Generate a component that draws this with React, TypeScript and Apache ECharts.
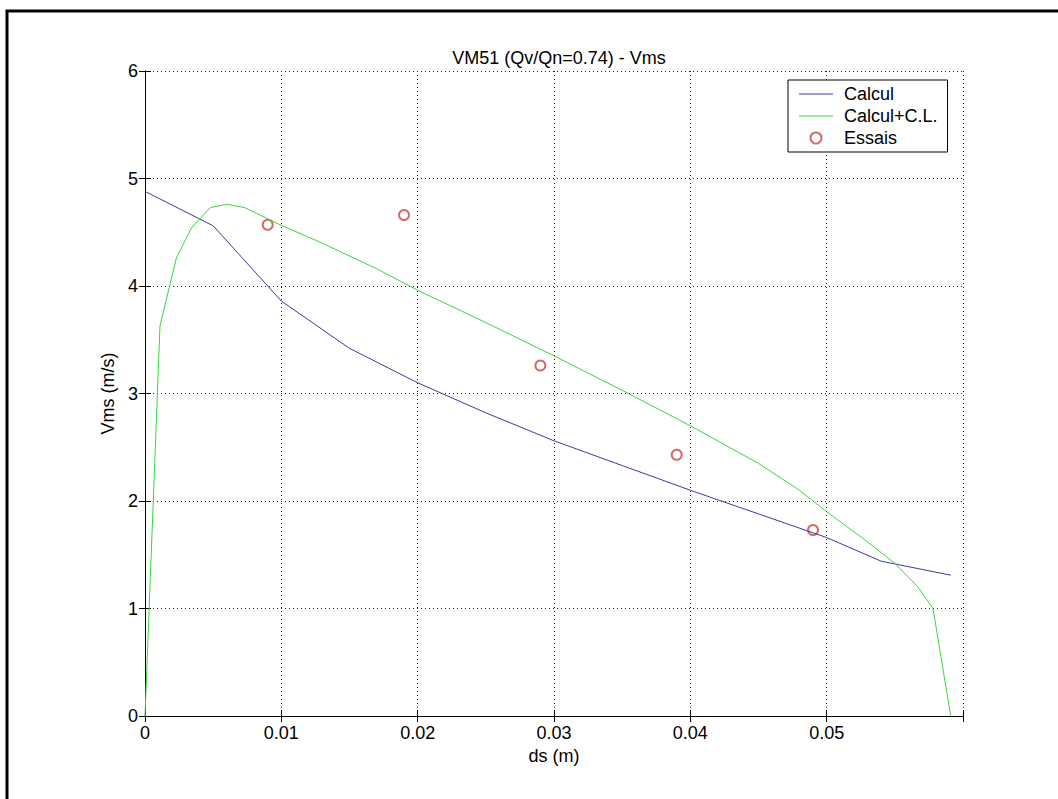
import React, { useEffect, useRef } from "react";
import * as echarts from "echarts";

const titleText = "VM51 (Qv/Qn=0.74) - Vms";
const xName = "ds (m)";
const yName = "Vms (m/s)";
const seriesNames = ["Calcul", "Calcul+C.L.", "Essais"];

const calculX = [0, 0.005, 0.01, 0.015, 0.02, 0.025, 0.03, 0.035, 0.04, 0.045, 0.05, 0.054, 0.0591];
const calculY = [4.88, 4.56, 3.86, 3.42, 3.1, 2.82, 2.56, 2.33, 2.1, 1.88, 1.66, 1.44, 1.31];

const clX = [0, 0.0011, 0.0023, 0.0034, 0.0048, 0.006, 0.0073, 0.0099, 0.0128, 0.017, 0.02, 0.025, 0.03, 0.035, 0.04, 0.045, 0.048, 0.05, 0.053, 0.055, 0.0567, 0.0578, 0.0591];
const clY = [0, 3.63, 4.26, 4.54, 4.73, 4.76, 4.73, 4.57, 4.41, 4.16, 3.96, 3.66, 3.35, 3.03, 2.7, 2.35, 2.1, 1.9, 1.62, 1.42, 1.2, 1.0, 0];

const essaisX = [0.009, 0.019, 0.029, 0.039, 0.049];
const essaisY = [4.57, 4.66, 3.26, 2.43, 1.73];

const xTicks = { min: 0, max: 0.06, interval: 0.01 };
const yTicks = { min: 0, max: 6, interval: 1 };

const FONT = "Liberation Sans, Arial, sans-serif";
const FS = 18;
const LINE_ICON = "path://M0,0 L34,0 L34,1 L0,1 Z";

export default function App() {
  const ref = useRef<HTMLDivElement>(null);
  useEffect(() => {
    if (!ref.current) return;
    const chart = echarts.init(ref.current, undefined, { renderer: "svg" });
    const zip = (xs: number[], ys: number[]) => xs.map((x, i) => [x, ys[i]]);
    const splitStyle = { show: true, lineStyle: { color: "#222", width: 1, type: [1, 3] as any } };
    chart.setOption({
      animation: false,
      backgroundColor: "#fff",
      textStyle: { fontFamily: FONT },
      title: {
        text: titleText,
        left: 554,
        textAlign: "center",
        top: 44,
        textStyle: { fontFamily: FONT, fontSize: FS, fontWeight: "normal", color: "#000" },
      },
      grid: { left: 145, right: 95, top: 71, bottom: 83, show: false },
      legend: {
        orient: "vertical",
        left: 788,
        top: 80,
        padding: [5, 10, 5, 11],
        itemWidth: 34,
        itemHeight: 11,
        itemGap: 4,
        symbolKeepAspect: true,
        backgroundColor: "#fff",
        borderColor: "#000",
        borderWidth: 1,
        borderRadius: 0,
        textStyle: { fontFamily: FONT, fontSize: FS, color: "#000", padding: [0, 0, 0, 6] },
        data: [
          { name: seriesNames[0], icon: LINE_ICON },
          { name: seriesNames[1], icon: LINE_ICON },
          { name: seriesNames[2], icon: "emptyCircle" },
        ],
      },
      xAxis: [
        {
          type: "value",
          ...xTicks,
          name: xName,
          nameLocation: "middle",
          nameGap: 29,
          nameTextStyle: { fontFamily: FONT, fontSize: FS, color: "#000" },
          axisLine: { show: true, lineStyle: { color: "#000", width: 1 } },
          axisTick: { show: true, inside: true, length: 6, lineStyle: { color: "#000" } },
          axisLabel: {
            show: true,
            margin: 8,
            fontFamily: FONT,
            fontSize: FS,
            color: "#000",
            formatter: (v: number) => (Math.abs(v - 0.06) < 1e-9 ? "" : String(Math.round(v * 100) / 100)),
          },
          splitLine: splitStyle,
        },
        {
          type: "value",
          position: "top",
          ...xTicks,
          axisLine: { show: true, lineStyle: { color: "#000", width: 1 } },
          axisTick: { show: true, inside: true, length: 6, lineStyle: { color: "#000" } },
          axisLabel: { show: false },
          splitLine: { show: false },
        },
      ],
      yAxis: [
        {
          type: "value",
          ...yTicks,
          name: yName,
          nameLocation: "middle",
          nameGap: 25,
          nameTextStyle: { fontFamily: FONT, fontSize: FS, color: "#000" },
          axisLine: { show: true, lineStyle: { color: "#000", width: 1 } },
          axisTick: { show: true, inside: true, length: 6, lineStyle: { color: "#000" } },
          axisLabel: { show: true, margin: 7, fontFamily: FONT, fontSize: FS, color: "#000" },
          splitLine: splitStyle,
        },
        {
          type: "value",
          position: "right",
          ...yTicks,
          axisLine: { show: true, lineStyle: { color: "#000", width: 1 } },
          axisTick: { show: true, inside: true, length: 6, lineStyle: { color: "#000" } },
          axisLabel: { show: false },
          splitLine: { show: false },
        },
      ],
      graphic: [
        {
          type: "rect",
          shape: { x: 7, y: 11, width: 1200, height: 1000 },
          style: { fill: "none", stroke: "#000", lineWidth: 3 },
          silent: true,
        },
      ],
      series: [
        {
          name: seriesNames[0],
          type: "line",
          data: zip(calculX, calculY),
          showSymbol: false,
          symbol: "none",
          lineStyle: { color: "#3a3aa8", width: 1 },
          itemStyle: { color: "#3a3aa8" },
        },
        {
          name: seriesNames[1],
          type: "line",
          data: zip(clX, clY),
          showSymbol: false,
          symbol: "none",
          lineStyle: { color: "#3cd43c", width: 1 },
          itemStyle: { color: "#3cd43c" },
        },
        {
          name: seriesNames[2],
          type: "scatter",
          data: zip(essaisX, essaisY),
          symbol: "emptyCircle",
          symbolSize: 10,
          itemStyle: { color: "#c84646", borderColor: "#c84646", borderWidth: 1 },
        },
      ],
    });
    return () => chart.dispose();
  }, []);
  return (
    <div
      ref={ref}
      style={{ position: "absolute", left: 0, top: 0, width: 1058, height: 799, background: "#fff" }}
    />
  );
}
